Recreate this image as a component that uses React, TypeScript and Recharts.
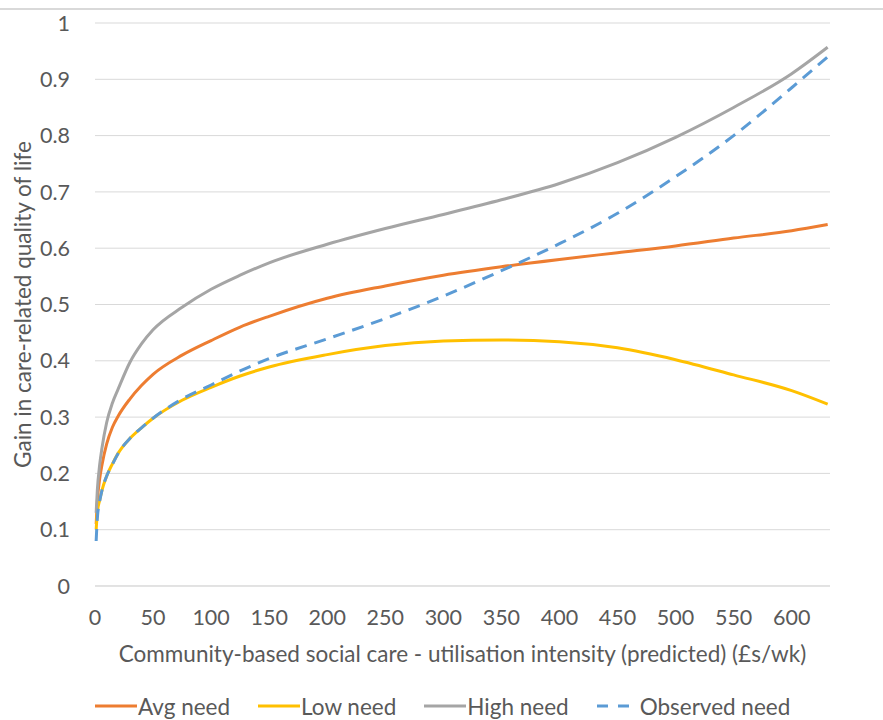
import { LineChart, Line, XAxis, YAxis, CartesianGrid, Legend } from 'recharts';

// £s/wk (predicted utilisation intensity)
const spend = [1, 2, 4, 6, 10, 15, 20, 30, 40, 50, 75, 100, 125, 150, 200, 250, 300, 350, 400, 450, 500, 550, 600, 631];

const avgNeed = [0.11, 0.15, 0.19, 0.215, 0.252, 0.282, 0.302, 0.332, 0.356, 0.376, 0.41, 0.436, 0.46, 0.479, 0.511, 0.533, 0.552, 0.567, 0.58, 0.592, 0.604, 0.618, 0.631, 0.642];
const lowNeed = [0.1, 0.13, 0.152, 0.17, 0.195, 0.217, 0.236, 0.262, 0.281, 0.298, 0.33, 0.353, 0.373, 0.389, 0.411, 0.427, 0.435, 0.437, 0.434, 0.423, 0.402, 0.375, 0.347, 0.323];
const highNeed = [0.13, 0.17, 0.215, 0.245, 0.29, 0.325, 0.35, 0.397, 0.43, 0.455, 0.495, 0.527, 0.552, 0.574, 0.607, 0.635, 0.66, 0.686, 0.715, 0.752, 0.797, 0.85, 0.91, 0.957];
const observedNeed = [0.08, 0.12, 0.15, 0.17, 0.195, 0.216, 0.236, 0.262, 0.281, 0.298, 0.332, 0.357, 0.382, 0.404, 0.439, 0.475, 0.515, 0.56, 0.608, 0.662, 0.727, 0.8, 0.885, 0.94];

const xTicks = [0, 50, 100, 150, 200, 250, 300, 350, 400, 450, 500, 550, 600];
const yTicks = [0, 0.1, 0.2, 0.3, 0.4, 0.5, 0.6, 0.7, 0.8, 0.9, 1];

const series = [
  { key: 'avg', name: 'Avg need', color: '#ED7D31', dash: undefined },
  { key: 'low', name: 'Low need', color: '#FFC000', dash: undefined },
  { key: 'high', name: 'High need', color: '#A5A5A5', dash: undefined },
  { key: 'observed', name: 'Observed need', color: '#5B9BD5', dash: '12 8' },
];

const data = spend.map((x, i) => ({
  x,
  avg: avgNeed[i],
  low: lowNeed[i],
  high: highNeed[i],
  observed: observedNeed[i],
}));

const FONT = 'Lato, "Open Sans", sans-serif';
const TEXT = '#595959';

function LegendRow() {
  return (
    <div style={{ display: 'flex', paddingLeft: 95, height: 28, alignItems: 'center', fontFamily: FONT, fontSize: 22.5, color: TEXT }}>
      {series.map((s) => (
        <div key={s.key} style={{ display: 'flex', alignItems: 'center', marginRight: 28 }}>
          <svg width={42} height={6}>
            <line x1={0} y1={3} x2={42} y2={3} stroke={s.color} strokeWidth={3} strokeDasharray={s.dash ? '11 10' : undefined} />
          </svg>
          <span style={{ marginLeft: 1 }}>{s.name}</span>
        </div>
      ))}
    </div>
  );
}

export default function App() {
  return (
    <div style={{ position: 'absolute', left: 0, top: 0, width: 883, height: 720, background: '#fff' }}>
      <div style={{ position: 'absolute', left: 0, top: 8, width: 883, height: 2, background: '#d9d9d9' }} />
      <LineChart width={883} height={720} data={data} margin={{ top: 23, right: 53, bottom: 0, left: 0 }}>
        <CartesianGrid stroke="#d9d9d9" vertical={false} />
        <XAxis
          dataKey="x"
          type="number"
          domain={[0, 633]}
          ticks={xTicks}
          interval={0}
          axisLine={{ stroke: '#d9d9d9' }}
          tickLine={false}
          tickSize={0}
          tickMargin={24}
          height={106}
          tick={{ fontSize: 21.5, fill: TEXT, fontFamily: FONT }}
          label={{
            value: 'Community-based  social care - utilisation intensity (predicted) (£s/wk)',
            position: 'insideBottom',
            offset: 30,
            style: { fontSize: 22.5, fill: TEXT, fontFamily: FONT },
          }}
        />
        <YAxis
          type="number"
          domain={[0, 1]}
          ticks={yTicks}
          interval={0}
          axisLine={false}
          tickLine={false}
          tickSize={0}
          tickMargin={25}
          width={95}
          tick={{ fontSize: 21.5, fill: TEXT, fontFamily: FONT }}
          label={{
            value: 'Gain in care-related quality of life',
            angle: -90,
            position: 'insideLeft',
            offset: 23,
            style: { fontSize: 22.5, fill: TEXT, fontFamily: FONT, textAnchor: 'middle' },
          }}
        />
        <Legend verticalAlign="bottom" content={() => <LegendRow />} />
        {series.map((s) => (
          <Line
            key={s.key}
            type="monotone"
            dataKey={s.key}
            name={s.name}
            stroke={s.color}
            strokeWidth={3}
            strokeDasharray={s.dash}
            dot={false}
            isAnimationActive={false}
          />
        ))}
      </LineChart>
    </div>
  );
}
